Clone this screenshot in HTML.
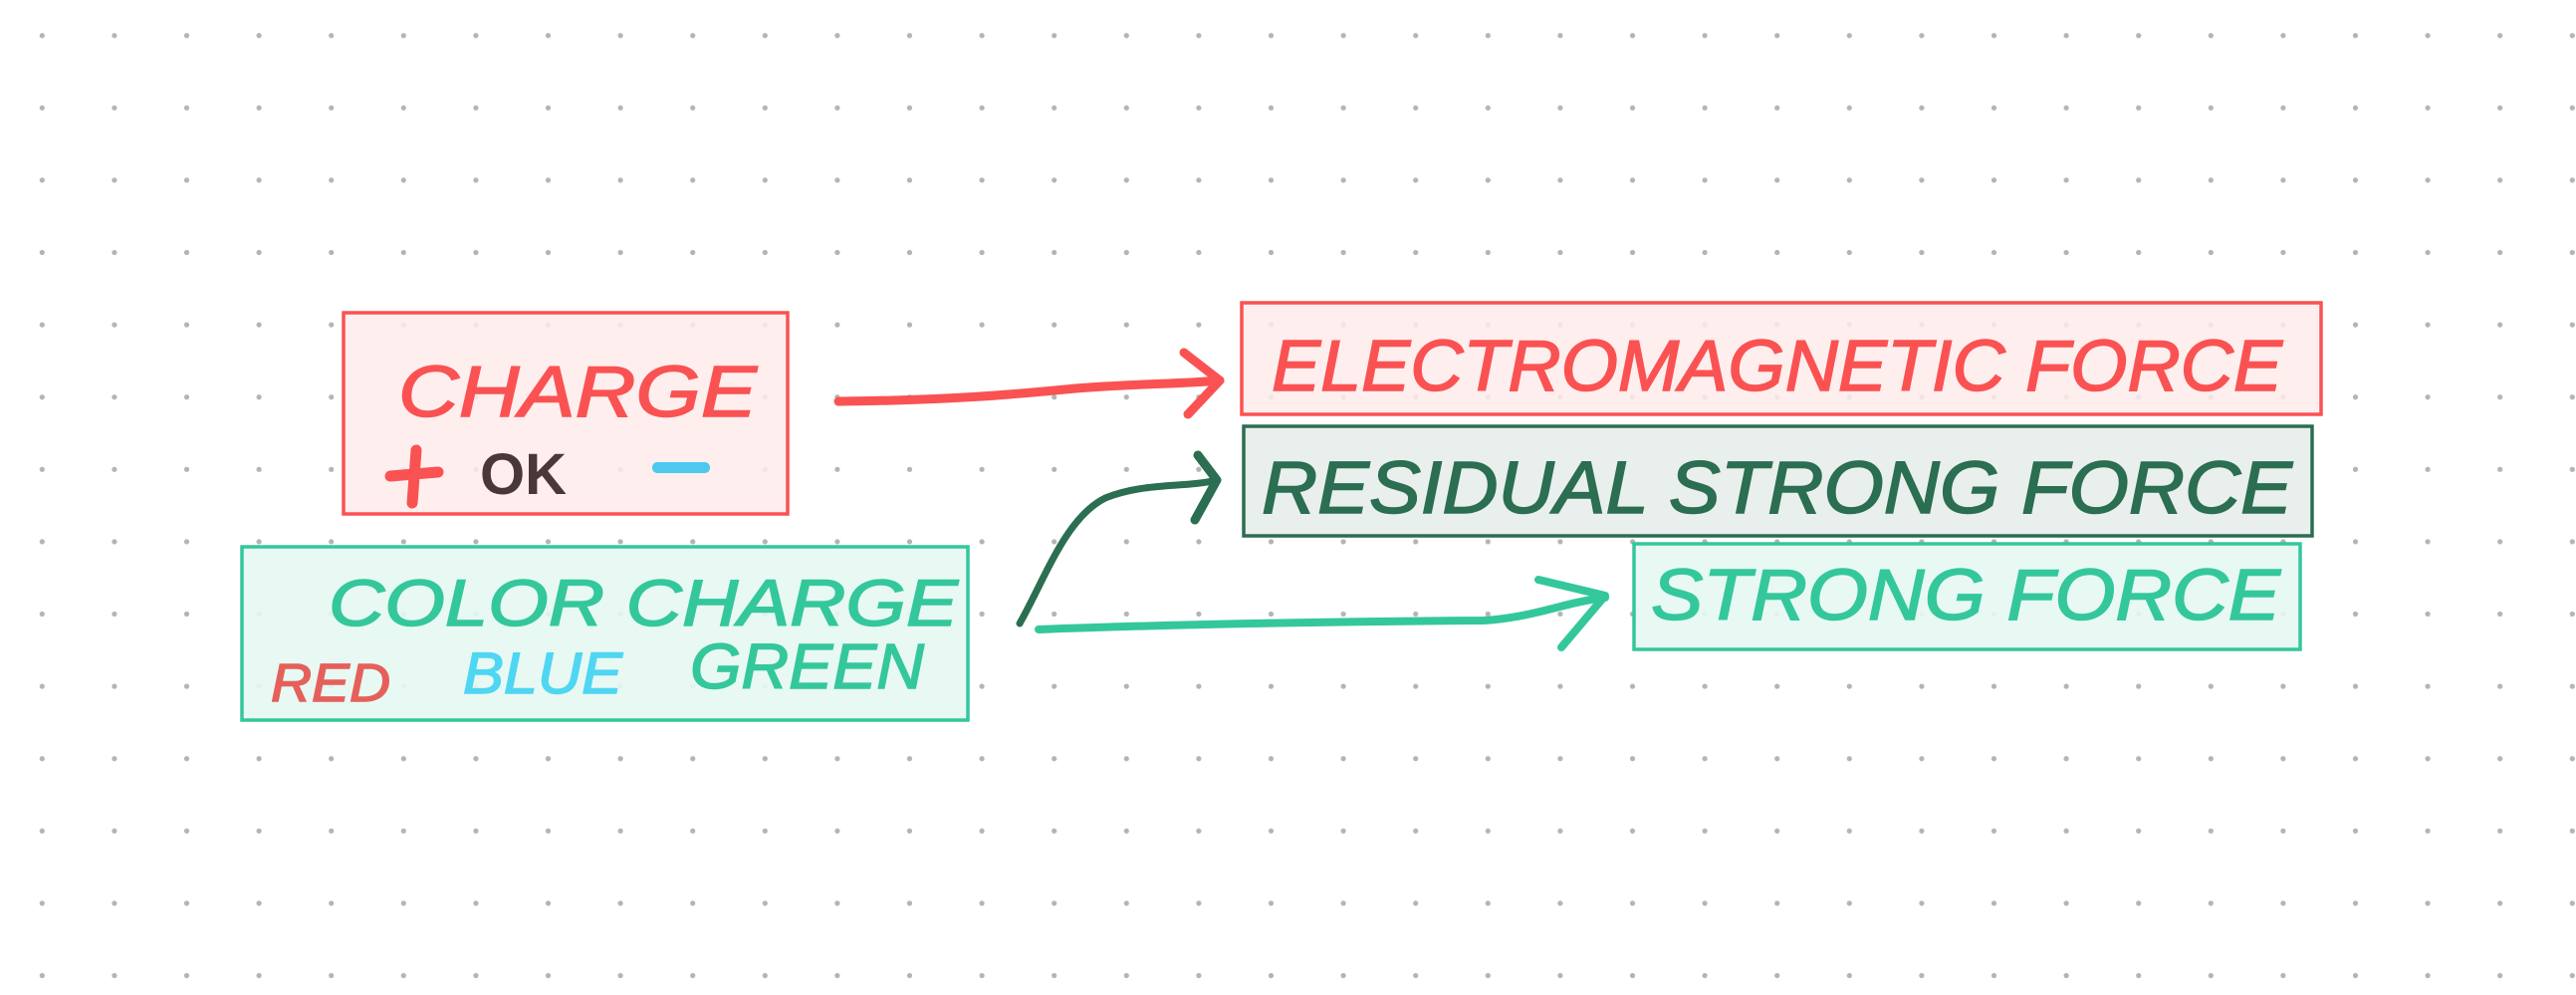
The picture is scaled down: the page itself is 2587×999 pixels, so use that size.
<!DOCTYPE html>
<html><head><meta charset="utf-8"><style>
html,body{margin:0;padding:0;background:#fff;}
svg{display:block;}
text{font-family:"Liberation Sans",sans-serif;}
</style></head><body>
<svg width="2587" height="999" viewBox="0 0 2587 999" xmlns="http://www.w3.org/2000/svg">
<defs>
<pattern id="dots" x="6" y="-0.6" width="72.6" height="72.6" patternUnits="userSpaceOnUse">
<circle cx="36.3" cy="36.3" r="2.6" fill="#b4b4b4"/>
</pattern>
</defs>
<rect width="2587" height="999" fill="#fff"/>
<rect width="2587" height="999" fill="url(#dots)"/>

<!-- Charge box -->
<rect x="345" y="314" width="446" height="202" fill="#ffebeb" fill-opacity="0.85" stroke="#fa5252" stroke-width="3.5"/>
<text x="400" y="418" font-size="72" fill="#fa5252" stroke="#fa5252" stroke-width="1.5" textLength="360" lengthAdjust="spacingAndGlyphs" font-style="italic">CHARGE</text>
<path d="M392 478 L440 474 M418 452 L414 505" stroke="#fa5252" stroke-width="11" stroke-linecap="round" fill="none"/>
<text x="482" y="496" font-size="58" fill="#4a3838" font-weight="bold">OK</text>
<rect x="655" y="464" width="58" height="11" rx="5" fill="#4dc9f0"/>

<!-- Color charge box -->
<rect x="243" y="549" width="729" height="174" fill="#e6f8f2" fill-opacity="0.9" stroke="#34c79c" stroke-width="3.5"/>
<text x="330" y="628" font-size="66" fill="#34c79c" stroke="#34c79c" stroke-width="1.5" textLength="632" lengthAdjust="spacingAndGlyphs" font-style="italic">COLOR CHARGE</text>
<text x="272" y="704" font-size="54" fill="#e5605a" stroke="#e5605a" stroke-width="1.5" textLength="120" lengthAdjust="spacingAndGlyphs" font-style="italic">RED</text>
<text x="465" y="696" font-size="58" fill="#4fd6f2" stroke="#4fd6f2" stroke-width="1.5" textLength="160" lengthAdjust="spacingAndGlyphs" font-style="italic">BLUE</text>
<text x="693" y="691" font-size="64" fill="#34c79c" stroke="#34c79c" stroke-width="1.5" textLength="235" lengthAdjust="spacingAndGlyphs" font-style="italic">GREEN</text>

<!-- Electromagnetic box -->
<rect x="1247" y="304" width="1084" height="112" fill="#ffebeb" fill-opacity="0.85" stroke="#fa5252" stroke-width="3.5"/>
<text x="1277" y="392" font-size="72" fill="#fa5252" stroke="#fa5252" stroke-width="1.5" textLength="1015" lengthAdjust="spacingAndGlyphs" font-style="italic">ELECTROMAGNETIC FORCE</text>

<!-- Residual box -->
<rect x="1249" y="428" width="1073" height="110" fill="#e9efec" stroke="#2b6e52" stroke-width="3.5"/>
<text x="1267" y="515" font-size="74" fill="#2b6e52" stroke="#2b6e52" stroke-width="1.5" textLength="1035" lengthAdjust="spacingAndGlyphs" font-style="italic">RESIDUAL STRONG FORCE</text>

<!-- Strong force box -->
<rect x="1641" y="546" width="669" height="106" fill="#e6f8f2" fill-opacity="0.9" stroke="#34c79c" stroke-width="3.5"/>
<text x="1658" y="622" font-size="72" fill="#34c79c" stroke="#34c79c" stroke-width="1.5" textLength="632" lengthAdjust="spacingAndGlyphs" font-style="italic">STRONG FORCE</text>

<!-- Red arrow -->
<path d="M842 403 C 950 402, 1020 396, 1080 390 C 1140 385, 1180 386, 1225 382" fill="none" stroke="#fa5252" stroke-width="9" stroke-linecap="round"/>
<path d="M1189 354 L1225 382 L1193 416" fill="none" stroke="#fa5252" stroke-width="9" stroke-linecap="round" stroke-linejoin="round"/>

<!-- Dark green curve arrow -->
<path d="M1024 626 C 1050 580, 1070 520, 1110 500 C 1150 484, 1190 490, 1222 482" fill="none" stroke="#2b6e52" stroke-width="7" stroke-linecap="round"/>
<path d="M1203 457 L1222 482 L1200 522" fill="none" stroke="#2b6e52" stroke-width="9" stroke-linecap="round" stroke-linejoin="round"/>

<!-- Teal arrow -->
<path d="M1043 632 C 1200 626, 1350 624, 1490 623 C 1540 620, 1570 605, 1612 600" fill="none" stroke="#34c79c" stroke-width="8" stroke-linecap="round"/>
<path d="M1545 582 L1612 598 L1568 650" fill="none" stroke="#34c79c" stroke-width="8" stroke-linecap="round" stroke-linejoin="round"/>
</svg>
</body></html>
